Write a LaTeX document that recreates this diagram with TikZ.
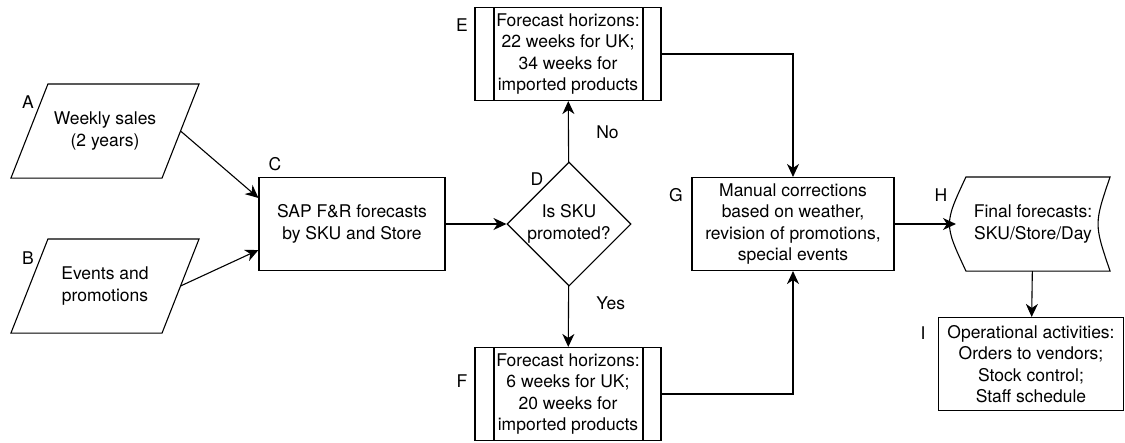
\documentclass[tikz,border=0pt]{standalone}
\usepackage{fontspec}
\setmainfont{TeX Gyre Heros}
\usetikzlibrary{shapes.geometric, arrows.meta}

\begin{document}
\begin{tikzpicture}[x=1pt, y=-1pt,
    font=\fontsize{17.5}{21.5}\selectfont, line width=1.1pt,
    box/.style={draw, rectangle, align=center, minimum width=186, minimum height=93, inner sep=2pt},
    data/.style={align=center, minimum width=150, minimum height=93, inner sep=0pt},
    decision/.style={draw, diamond, aspect=1, align=center, minimum size=124, inner sep=0pt},
    process/.style={box, path picture={
        \draw ([xshift=19]path picture bounding box.north west) -- ([xshift=19]path picture bounding box.south west);
        \draw ([xshift=-18]path picture bounding box.north east) -- ([xshift=-18]path picture bounding box.south east);}},
    flow/.style={-{Stealth[length=13pt, width=12pt, inset=4pt]}}]
    \useasboundingbox (0,0) rectangle (1125,442);

    \node[data] (A) at (105,131) {Weekly sales\\(2 years)};
    \node[data] (B) at (105,286) {Events and\\promotions};
    \node[box] (C) at (352,224) {SAP F\&R forecasts\\by SKU and Store};
    \node[decision] (D) at (569,224) {Is SKU\\promoted?};
    \node[process] (E) at (568,54) {Forecast horizons:\\22 weeks for UK;\\34 weeks for\\imported products};
    \node[process] (F) at (568,394) {Forecast horizons:\\6 weeks for UK;\\20 weeks for\\imported products};
    \node[box, minimum width=202] (G) at (793,224) {Manual corrections\\based on weather,\\revision of promotions,\\special events};
    \node[align=center, minimum width=153, minimum height=93] (H) at (1033,224) {Final forecasts:\\SKU/Store/Day};
    \node[box, minimum width=185] (I) at (1031,364) {Operational activities:\\Orders to vendors;\\Stock control;\\Staff schedule};

    \draw ([xshift=18.5]A.north west) -- ([xshift=18.5]A.north east)
        -- ([xshift=-18.5]A.south east) -- ([xshift=-18.5]A.south west) -- cycle;
    \draw ([xshift=18.5]B.north west) -- ([xshift=18.5]B.north east)
        -- ([xshift=-18.5]B.south east) -- ([xshift=-18.5]B.south west) -- cycle;
    \draw ([xshift=10]H.north west) -- (H.north east)
        .. controls ([xshift=-16]H.east) .. (H.south east)
        -- ([xshift=10]H.south west)
        .. controls ([xshift=-12]H.west) .. cycle;

    \node (labA) at (28,102) {A};
    \node (labB) at (28,258) {B};
    \node (labC) at (275,164) {C};
    \node (labD) at (537,179) {D};
    \node (labE) at (462,25) {E};
    \node (labF) at (462,381) {F};
    \node (labG) at (676,195) {G};
    \node (labH) at (941,195) {H};
    \node (labI) at (923,333) {I};

    \draw[flow] (A.east) -- ([yshift=26]C.west);
    \draw[flow] (B.east) -- ([yshift=-26]C.west);
    \draw[flow] (C) -- (D);
    \draw[flow] (D) -- node[pos=0.48, right=24pt] {No} (E);
    \draw[flow] (D) -- node[pos=0.28, right=24pt] {Yes} (F);
    \draw[flow] (E.east) -| (G.north);
    \draw[flow] (F.east) -| (G.south);
    \draw[flow] (G) -- (H);
    \draw[flow] (H) -- (I);

\end{tikzpicture}
\end{document}
